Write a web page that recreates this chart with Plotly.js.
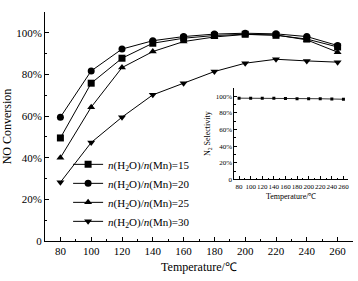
<!DOCTYPE html>
<html><head><meta charset="utf-8">
<script src="https://cdn.plot.ly/plotly-3.0.1.min.js"></script>
<style>html,body{margin:0;padding:0;background:#fff}#c{width:358px;height:281px}</style>
</head><body><div id="c"></div>
<script>
const temps = [80,100,120,140,160,180,200,220,240,260];
const conv15 = [49.5,75.8,87.8,95.0,97.4,98.7,99.3,98.8,97.0,93.2];
const conv20 = [59.5,81.7,92.2,96.2,98.2,99.4,99.8,99.5,98.2,93.9];
const conv25 = [40.0,64.3,83.3,91.0,95.8,98.0,99.2,99.0,96.6,90.7];
const conv30 = [28.2,47.3,59.5,70.2,75.8,81.4,85.4,87.3,86.5,85.9];
const selTemps = [80,100,120,140,160,180,200,220,240,260];
const selectivity = [97.8,97.8,97.8,97.7,97.4,97.2,97.2,97.1,96.8,96.5];
const seriesNames = ['<i>n</i>(H<sub>2</sub>O)/<i>n</i>(Mn)=15','<i>n</i>(H<sub>2</sub>O)/<i>n</i>(Mn)=20','<i>n</i>(H<sub>2</sub>O)/<i>n</i>(Mn)=25','<i>n</i>(H<sub>2</sub>O)/<i>n</i>(Mn)=30'];
const yTickVals = [0,20,40,60,80,100];
const yTickText = ['0','20%','40%','60%','80%','100%'];
const xTickVals = [80,100,120,140,160,180,200,220,240,260];

const F = 'Liberation Serif, Times New Roman, serif';
const symbols = ['square','circle','triangle-up','triangle-down'];
const data = [conv15,conv20,conv25,conv30].map((v,i)=>({
  x: temps, y: v, name: seriesNames[i], type:'scatter', mode:'lines+markers',
  line:{color:'#000',width:1}, marker:{symbol:symbols[i],size:7,color:'#000'},
  xaxis:'x', yaxis:'y'
}));
data.push({x: selTemps, y: selectivity, type:'scatter', mode:'lines+markers', showlegend:false,
  line:{color:'#000',width:0.8}, marker:{symbol:'square',size:3,color:'#000'}, xaxis:'x2', yaxis:'y2'});

const axBase = {showline:true, linecolor:'#000', linewidth:1, showgrid:false, zeroline:false,
  ticks:'inside', tickcolor:'#000', mirror:false};
const layout = {
  width:358, height:281, margin:{l:45,r:5,t:12,b:40},
  paper_bgcolor:'#fff', plot_bgcolor:'rgba(0,0,0,0)',
  font:{family:F,color:'#000',size:11},
  showlegend:true,
  legend:{x:0.075, y:0.398, xanchor:'left', yanchor:'top', font:{family:F,size:11,color:'#000'},
    bgcolor:'rgba(0,0,0,0)', tracegroupgap:0, itemwidth:30},
  xaxis: Object.assign({}, axBase, {range:[70,270], tickvals:xTickVals, ticklen:4,
    tickfont:{family:F,size:11}, tickangle:0,
    minor:{ticks:'inside', ticklen:2, dtick:10, tick0:70, tickcolor:'#000'},
    title:{text:'Temperature/℃', font:{family:F,size:12}, standoff:6}}),
  yaxis: Object.assign({}, axBase, {range:[0,110], tickvals:yTickVals, ticktext:yTickText, ticklen:4,
    tickfont:{family:F,size:11},
    minor:{ticks:'inside', ticklen:2, dtick:10, tick0:0, tickcolor:'#000'},
    title:{text:'NO Conversion', font:{family:F,size:12}, standoff:1}}),
  xaxis2: Object.assign({}, axBase, {domain:[0.615,0.984], anchor:'y2', range:[72,268], tickvals:xTickVals,
    ticklen:3, tickangle:0, tickfont:{family:F,size:7},
    minor:{ticks:'inside', ticklen:1.5, dtick:10, tick0:70, tickcolor:'#000'},
    title:{text:'Temperature/℃', font:{family:F,size:8}, standoff:3}}),
  yaxis2: Object.assign({}, axBase, {domain:[0.269,0.668], anchor:'x2', range:[0,110], tickvals:yTickVals, ticktext:yTickText,
    ticklen:3, tickfont:{family:F,size:7},
    minor:{ticks:'inside', ticklen:1.5, dtick:10, tick0:0, tickcolor:'#000'},
    title:{text:'N<sub>2</sub> Selectivity', font:{family:F,size:8}, standoff:3}})
};
Plotly.newPlot('c', data, layout, {displayModeBar:false, staticPlot:true});
</script></body></html>
